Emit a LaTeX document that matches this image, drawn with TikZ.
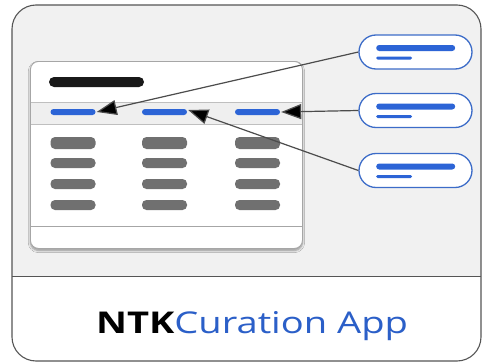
\documentclass[tikz,border=0pt]{standalone}
\usepackage{fontspec}
\setmainfont{Open Sans}
\usetikzlibrary{arrows.meta,shadows.blur}
\definecolor{bgray}{HTML}{F1F1F1}
\definecolor{framec}{HTML}{555555}
\definecolor{hblue}{HTML}{2C64D6}
\definecolor{pblue}{HTML}{3C6CC8}
\definecolor{tblue}{HTML}{2B5FC8}
\definecolor{rowgray}{HTML}{707070}
\definecolor{bandgray}{HTML}{EFEFEF}
\tikzset{
  bar/.style={rectangle,inner sep=0pt,rounded corners=#1},
  hbar/.style={bar=3pt,fill=hblue,minimum width=45pt,minimum height=6pt},
  rbar/.style={bar=4.5pt,fill=rowgray,minimum width=45pt,minimum height=9pt},
  pill/.style={rectangle,draw=pblue,line width=1.3pt,fill=white,rounded corners=17pt,minimum width=113pt,minimum height=34pt,inner sep=0pt},
  conn/.style={draw=black!70,line width=1.2pt,-{Triangle[length=20pt,width=15pt,fill=black]}},
}
\begin{document}
\begin{tikzpicture}[x=1pt,y=-1pt]
\useasboundingbox (0,0) rectangle (483,364);
\fill[white] (0,0) rectangle (483,364);
% outer frame
\begin{scope}
\clip[rounded corners=24pt] (12,5) rectangle (481,361);
\fill[bgray] (12,5) rectangle (481,276);
\fill[white] (12,276) rectangle (481,361);
\end{scope}
\draw[framec,line width=1pt] (12,276) -- (481,276);
\draw[framec,line width=1.1pt,rounded corners=24pt] (12,5) rectangle (481,361);
% window
\node[rectangle,draw=black!35,line width=0.9pt,fill=white,rounded corners=8pt,minimum width=272pt,minimum height=187pt,anchor=north west,inner sep=0pt,blur shadow={shadow xshift=0pt,shadow yshift=-2pt,shadow blur steps=6,shadow opacity=40}] (win) at (30,61) {};
\fill[bandgray] (30.5,102) rectangle (301.5,124);
\draw[black!25,line width=1pt] (30.5,102) -- (301.5,102);
\draw[black!25,line width=1pt] (30.5,124) -- (301.5,124);
\draw[black!35,line width=1pt] (30.5,226) -- (301.5,226);
\node[bar=5pt,fill=black!90,minimum width=95pt,minimum height=10pt] (title) at (96.5,82) {};
% header bars
\node[hbar] (h1) at (73,112) {};
\node[hbar] (h2) at (164.5,112) {};
\node[hbar] (h3) at (257.5,112) {};
% rows
\foreach \y/\h in {143/12,163/10,184/10,205/10}{
  \node[rbar,minimum height=\h pt] (ra\y) at (73,\y) {};
  \node[rbar,minimum height=\h pt] (rb\y) at (164.5,\y) {};
  \node[rbar,minimum height=\h pt] (rc\y) at (257.5,\y) {};
}
% pills
\foreach \n/\y in {1/52,2/110.5,3/170.5}{
  \node[pill] (p\n) at (415.5,\y) {};
  \node[bar=3pt,fill=hblue,minimum width=79pt,minimum height=6pt,anchor=west] (pl\n) at (376,\y-4) {};
  \node[bar=1.5pt,fill=hblue,minimum width=36pt,minimum height=3pt,anchor=west] (ps\n) at (376,\y+6) {};
}
% connectors
\draw[conn] (p1.west) -- ([xshift=1pt]h1.east);
\draw[conn] (p2.west) -- ([xshift=1pt]h3.east);
\draw[conn] (p3.west) -- ([xshift=1pt,yshift=2pt]h2.east);
% label
\node[inner sep=0pt,anchor=base] (lbl) at (252,333) {\scalebox{1.27}[1]{\fontsize{30}{36}\selectfont\textbf{NTK}\textcolor{tblue}{Curation App}}};
\end{tikzpicture}
\end{document}
